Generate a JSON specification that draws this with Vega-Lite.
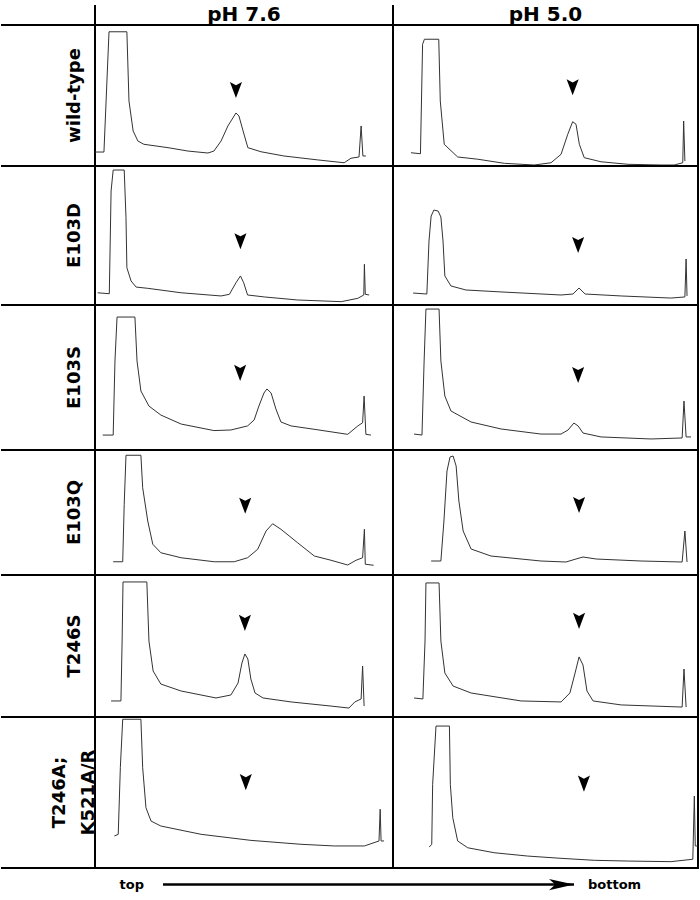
{
"$schema": "https://vega.github.io/schema/vega-lite/v6.json",
"padding": {"left": 0, "top": 4, "right": 3, "bottom": 0},
"background": "white",
"config": {"view": {"stroke": "black", "strokeWidth": 2}, "concat": {"spacing": 0}, "font": "DejaVu Sans"},
"datasets": {
"traces": [
{"mutant":"wild-type","pH":"pH 7.6","position":0,"signal":9.9},
{"mutant":"wild-type","pH":"pH 7.6","position":3.0,"signal":9.9},
{"mutant":"wild-type","pH":"pH 7.6","position":4.7,"signal":95.2},
{"mutant":"wild-type","pH":"pH 7.6","position":10.7,"signal":95.2},
{"mutant":"wild-type","pH":"pH 7.6","position":11.4,"signal":46.1},
{"mutant":"wild-type","pH":"pH 7.6","position":12.8,"signal":24.8},
{"mutant":"wild-type","pH":"pH 7.6","position":14.4,"signal":17.7},
{"mutant":"wild-type","pH":"pH 7.6","position":16.4,"signal":15.4},
{"mutant":"wild-type","pH":"pH 7.6","position":24.5,"signal":13.0},
{"mutant":"wild-type","pH":"pH 7.6","position":31.2,"signal":10.6},
{"mutant":"wild-type","pH":"pH 7.6","position":37.9,"signal":9.2},
{"mutant":"wild-type","pH":"pH 7.6","position":39.9,"signal":10.6},
{"mutant":"wild-type","pH":"pH 7.6","position":42.3,"signal":17.7},
{"mutant":"wild-type","pH":"pH 7.6","position":44.6,"signal":28.4},
{"mutant":"wild-type","pH":"pH 7.6","position":47.3,"signal":37.6},
{"mutant":"wild-type","pH":"pH 7.6","position":48.3,"signal":35.5},
{"mutant":"wild-type","pH":"pH 7.6","position":49.7,"signal":24.8},
{"mutant":"wild-type","pH":"pH 7.6","position":51.3,"signal":13.0},
{"mutant":"wild-type","pH":"pH 7.6","position":55.7,"signal":10.1},
{"mutant":"wild-type","pH":"pH 7.6","position":63.4,"signal":7.1},
{"mutant":"wild-type","pH":"pH 7.6","position":74.8,"signal":4.3},
{"mutant":"wild-type","pH":"pH 7.6","position":83.6,"signal":2.3},
{"mutant":"wild-type","pH":"pH 7.6","position":85.9,"signal":5.5},
{"mutant":"wild-type","pH":"pH 7.6","position":88.6,"signal":6.4},
{"mutant":"wild-type","pH":"pH 7.6","position":89.3,"signal":28.4},
{"mutant":"wild-type","pH":"pH 7.6","position":89.9,"signal":7.1},
{"mutant":"wild-type","pH":"pH 7.6","position":90.9,"signal":7.1},
{"mutant":"wild-type","pH":"pH 5.0","position":5.9,"signal":9.4},
{"mutant":"wild-type","pH":"pH 5.0","position":9.0,"signal":8.7},
{"mutant":"wild-type","pH":"pH 5.0","position":9.7,"signal":86.3},
{"mutant":"wild-type","pH":"pH 5.0","position":10.3,"signal":89.9},
{"mutant":"wild-type","pH":"pH 5.0","position":15.0,"signal":89.9},
{"mutant":"wild-type","pH":"pH 5.0","position":15.5,"signal":46.1},
{"mutant":"wild-type","pH":"pH 5.0","position":16.8,"signal":15.4},
{"mutant":"wild-type","pH":"pH 5.0","position":21.2,"signal":6.4},
{"mutant":"wild-type","pH":"pH 5.0","position":27.8,"signal":4.8},
{"mutant":"wild-type","pH":"pH 5.0","position":36.5,"signal":1.9},
{"mutant":"wild-type","pH":"pH 5.0","position":46.3,"signal":0.7},
{"mutant":"wild-type","pH":"pH 5.0","position":51.8,"signal":2.3},
{"mutant":"wild-type","pH":"pH 5.0","position":55.1,"signal":8.3},
{"mutant":"wild-type","pH":"pH 5.0","position":57.3,"signal":22.5},
{"mutant":"wild-type","pH":"pH 5.0","position":58.9,"signal":31.4},
{"mutant":"wild-type","pH":"pH 5.0","position":60.0,"signal":29.6},
{"mutant":"wild-type","pH":"pH 5.0","position":61.1,"signal":15.4},
{"mutant":"wild-type","pH":"pH 5.0","position":62.7,"signal":5.9},
{"mutant":"wild-type","pH":"pH 5.0","position":68.2,"signal":3.0},
{"mutant":"wild-type","pH":"pH 5.0","position":77.0,"signal":1.2},
{"mutant":"wild-type","pH":"pH 5.0","position":87.9,"signal":0.7},
{"mutant":"wild-type","pH":"pH 5.0","position":92.2,"signal":0.7},
{"mutant":"wild-type","pH":"pH 5.0","position":95.0,"signal":2.3},
{"mutant":"wild-type","pH":"pH 5.0","position":95.3,"signal":31.9},
{"mutant":"wild-type","pH":"pH 5.0","position":95.7,"signal":3.5},
{"mutant":"E103D","pH":"pH 7.6","position":0.9,"signal":8.8},
{"mutant":"E103D","pH":"pH 7.6","position":4.8,"signal":8.1},
{"mutant":"E103D","pH":"pH 7.6","position":5.4,"signal":82.0},
{"mutant":"E103D","pH":"pH 7.6","position":6.1,"signal":97.1},
{"mutant":"E103D","pH":"pH 7.6","position":9.8,"signal":97.1},
{"mutant":"E103D","pH":"pH 7.6","position":10.4,"signal":62.8},
{"mutant":"E103D","pH":"pH 7.6","position":10.7,"signal":26.8},
{"mutant":"E103D","pH":"pH 7.6","position":12.1,"signal":17.3},
{"mutant":"E103D","pH":"pH 7.6","position":13.8,"signal":12.9},
{"mutant":"E103D","pH":"pH 7.6","position":17.7,"signal":12.0},
{"mutant":"E103D","pH":"pH 7.6","position":28.9,"signal":8.8},
{"mutant":"E103D","pH":"pH 7.6","position":42.3,"signal":6.5},
{"mutant":"E103D","pH":"pH 7.6","position":45.1,"signal":7.7},
{"mutant":"E103D","pH":"pH 7.6","position":47.3,"signal":16.0},
{"mutant":"E103D","pH":"pH 7.6","position":48.8,"signal":20.9},
{"mutant":"E103D","pH":"pH 7.6","position":49.9,"signal":16.0},
{"mutant":"E103D","pH":"pH 7.6","position":51.2,"signal":7.2},
{"mutant":"E103D","pH":"pH 7.6","position":56.8,"signal":5.8},
{"mutant":"E103D","pH":"pH 7.6","position":68.0,"signal":3.6},
{"mutant":"E103D","pH":"pH 7.6","position":82.6,"signal":2.4},
{"mutant":"E103D","pH":"pH 7.6","position":88.2,"signal":4.8},
{"mutant":"E103D","pH":"pH 7.6","position":90.2,"signal":7.2},
{"mutant":"E103D","pH":"pH 7.6","position":90.4,"signal":29.3},
{"mutant":"E103D","pH":"pH 7.6","position":90.7,"signal":7.7},
{"mutant":"E103D","pH":"pH 7.6","position":92.0,"signal":7.2},
{"mutant":"E103D","pH":"pH 5.0","position":6.6,"signal":8.6},
{"mutant":"E103D","pH":"pH 5.0","position":11.1,"signal":7.9},
{"mutant":"E103D","pH":"pH 5.0","position":11.8,"signal":46.0},
{"mutant":"E103D","pH":"pH 5.0","position":12.5,"signal":64.0},
{"mutant":"E103D","pH":"pH 5.0","position":13.4,"signal":68.3},
{"mutant":"E103D","pH":"pH 5.0","position":14.8,"signal":67.6},
{"mutant":"E103D","pH":"pH 5.0","position":15.7,"signal":63.3},
{"mutant":"E103D","pH":"pH 5.0","position":16.4,"signal":46.0},
{"mutant":"E103D","pH":"pH 5.0","position":17.0,"signal":20.9},
{"mutant":"E103D","pH":"pH 5.0","position":19.0,"signal":13.7},
{"mutant":"E103D","pH":"pH 5.0","position":23.9,"signal":10.8},
{"mutant":"E103D","pH":"pH 5.0","position":35.4,"signal":9.4},
{"mutant":"E103D","pH":"pH 5.0","position":55.1,"signal":7.2},
{"mutant":"E103D","pH":"pH 5.0","position":59.0,"signal":7.9},
{"mutant":"E103D","pH":"pH 5.0","position":61.0,"signal":12.2},
{"mutant":"E103D","pH":"pH 5.0","position":63.0,"signal":7.9},
{"mutant":"E103D","pH":"pH 5.0","position":74.8,"signal":6.5},
{"mutant":"E103D","pH":"pH 5.0","position":91.1,"signal":5.0},
{"mutant":"E103D","pH":"pH 5.0","position":95.7,"signal":5.8},
{"mutant":"E103D","pH":"pH 5.0","position":96.1,"signal":33.1},
{"mutant":"E103D","pH":"pH 5.0","position":96.4,"signal":6.5},
{"mutant":"E103S","pH":"pH 7.6","position":2.6,"signal":10.3},
{"mutant":"E103S","pH":"pH 7.6","position":6.1,"signal":10.3},
{"mutant":"E103S","pH":"pH 7.6","position":6.7,"signal":61.4},
{"mutant":"E103S","pH":"pH 7.6","position":7.4,"signal":91.7},
{"mutant":"E103S","pH":"pH 7.6","position":13.4,"signal":91.7},
{"mutant":"E103S","pH":"pH 7.6","position":14.1,"signal":61.4},
{"mutant":"E103S","pH":"pH 7.6","position":15.4,"signal":40.7},
{"mutant":"E103S","pH":"pH 7.6","position":18.1,"signal":30.3},
{"mutant":"E103S","pH":"pH 7.6","position":22.1,"signal":24.1},
{"mutant":"E103S","pH":"pH 7.6","position":28.9,"signal":17.9},
{"mutant":"E103S","pH":"pH 7.6","position":39.9,"signal":13.4},
{"mutant":"E103S","pH":"pH 7.6","position":45.6,"signal":13.8},
{"mutant":"E103S","pH":"pH 7.6","position":51.2,"signal":16.6},
{"mutant":"E103S","pH":"pH 7.6","position":53.4,"signal":20.7},
{"mutant":"E103S","pH":"pH 7.6","position":55.0,"signal":30.3},
{"mutant":"E103S","pH":"pH 7.6","position":56.7,"signal":39.3},
{"mutant":"E103S","pH":"pH 7.6","position":57.7,"signal":42.1},
{"mutant":"E103S","pH":"pH 7.6","position":59.1,"signal":39.3},
{"mutant":"E103S","pH":"pH 7.6","position":60.7,"signal":28.3},
{"mutant":"E103S","pH":"pH 7.6","position":62.4,"signal":19.3},
{"mutant":"E103S","pH":"pH 7.6","position":65.8,"signal":16.6},
{"mutant":"E103S","pH":"pH 7.6","position":73.5,"signal":14.3},
{"mutant":"E103S","pH":"pH 7.6","position":84.8,"signal":10.8},
{"mutant":"E103S","pH":"pH 7.6","position":88.2,"signal":16.6},
{"mutant":"E103S","pH":"pH 7.6","position":89.8,"signal":18.8},
{"mutant":"E103S","pH":"pH 7.6","position":90.3,"signal":37.2},
{"mutant":"E103S","pH":"pH 7.6","position":90.9,"signal":10.8},
{"mutant":"E103S","pH":"pH 7.6","position":92.6,"signal":10.3},
{"mutant":"E103S","pH":"pH 5.0","position":6.9,"signal":11.0},
{"mutant":"E103S","pH":"pH 5.0","position":9.5,"signal":10.3},
{"mutant":"E103S","pH":"pH 5.0","position":10.2,"signal":61.4},
{"mutant":"E103S","pH":"pH 5.0","position":10.8,"signal":97.2},
{"mutant":"E103S","pH":"pH 5.0","position":15.1,"signal":97.2},
{"mutant":"E103S","pH":"pH 5.0","position":15.7,"signal":61.4},
{"mutant":"E103S","pH":"pH 5.0","position":17.0,"signal":37.2},
{"mutant":"E103S","pH":"pH 5.0","position":19.0,"signal":26.9},
{"mutant":"E103S","pH":"pH 5.0","position":25.6,"signal":19.3},
{"mutant":"E103S","pH":"pH 5.0","position":35.4,"signal":14.5},
{"mutant":"E103S","pH":"pH 5.0","position":48.5,"signal":11.0},
{"mutant":"E103S","pH":"pH 5.0","position":55.1,"signal":11.0},
{"mutant":"E103S","pH":"pH 5.0","position":57.4,"signal":13.8},
{"mutant":"E103S","pH":"pH 5.0","position":59.3,"signal":18.6},
{"mutant":"E103S","pH":"pH 5.0","position":60.7,"signal":16.6},
{"mutant":"E103S","pH":"pH 5.0","position":62.3,"signal":11.7},
{"mutant":"E103S","pH":"pH 5.0","position":68.2,"signal":9.0},
{"mutant":"E103S","pH":"pH 5.0","position":84.6,"signal":7.6},
{"mutant":"E103S","pH":"pH 5.0","position":94.8,"signal":8.3},
{"mutant":"E103S","pH":"pH 5.0","position":95.4,"signal":33.8},
{"mutant":"E103S","pH":"pH 5.0","position":96.1,"signal":9.0},
{"mutant":"E103S","pH":"pH 5.0","position":97.7,"signal":9.0},
{"mutant":"E103Q","pH":"pH 7.6","position":6.1,"signal":10.6},
{"mutant":"E103Q","pH":"pH 7.6","position":9.3,"signal":10.6},
{"mutant":"E103Q","pH":"pH 7.6","position":9.8,"signal":56.6},
{"mutant":"E103Q","pH":"pH 7.6","position":10.4,"signal":95.8},
{"mutant":"E103Q","pH":"pH 7.6","position":15.4,"signal":95.8},
{"mutant":"E103Q","pH":"pH 7.6","position":16.0,"signal":69.8},
{"mutant":"E103Q","pH":"pH 7.6","position":17.7,"signal":43.2},
{"mutant":"E103Q","pH":"pH 7.6","position":19.4,"signal":24.6},
{"mutant":"E103Q","pH":"pH 7.6","position":22.1,"signal":17.8},
{"mutant":"E103Q","pH":"pH 7.6","position":28.9,"signal":13.8},
{"mutant":"E103Q","pH":"pH 7.6","position":40.0,"signal":10.6},
{"mutant":"E103Q","pH":"pH 7.6","position":46.7,"signal":10.6},
{"mutant":"E103Q","pH":"pH 7.6","position":51.2,"signal":13.8},
{"mutant":"E103Q","pH":"pH 7.6","position":54.6,"signal":20.6},
{"mutant":"E103Q","pH":"pH 7.6","position":57.4,"signal":35.2},
{"mutant":"E103Q","pH":"pH 7.6","position":59.6,"signal":41.0},
{"mutant":"E103Q","pH":"pH 7.6","position":62.4,"signal":36.6},
{"mutant":"E103Q","pH":"pH 7.6","position":68.0,"signal":25.8},
{"mutant":"E103Q","pH":"pH 7.6","position":73.6,"signal":15.2},
{"mutant":"E103Q","pH":"pH 7.6","position":79.2,"signal":11.8},
{"mutant":"E103Q","pH":"pH 7.6","position":84.8,"signal":8.0},
{"mutant":"E103Q","pH":"pH 7.6","position":87.6,"signal":11.8},
{"mutant":"E103Q","pH":"pH 7.6","position":89.8,"signal":13.8},
{"mutant":"E103Q","pH":"pH 7.6","position":90.4,"signal":36.6},
{"mutant":"E103Q","pH":"pH 7.6","position":90.7,"signal":8.6},
{"mutant":"E103Q","pH":"pH 7.6","position":93.5,"signal":7.8},
{"mutant":"E103Q","pH":"pH 5.0","position":12.5,"signal":11.2},
{"mutant":"E103Q","pH":"pH 5.0","position":15.7,"signal":11.2},
{"mutant":"E103Q","pH":"pH 5.0","position":16.7,"signal":43.2},
{"mutant":"E103Q","pH":"pH 5.0","position":17.7,"signal":83.2},
{"mutant":"E103Q","pH":"pH 5.0","position":18.7,"signal":94.4},
{"mutant":"E103Q","pH":"pH 5.0","position":19.7,"signal":95.2},
{"mutant":"E103Q","pH":"pH 5.0","position":20.7,"signal":87.2},
{"mutant":"E103Q","pH":"pH 5.0","position":21.6,"signal":59.2},
{"mutant":"E103Q","pH":"pH 5.0","position":23.0,"signal":35.2},
{"mutant":"E103Q","pH":"pH 5.0","position":25.6,"signal":20.8},
{"mutant":"E103Q","pH":"pH 5.0","position":32.1,"signal":15.2},
{"mutant":"E103Q","pH":"pH 5.0","position":48.5,"signal":11.2},
{"mutant":"E103Q","pH":"pH 5.0","position":56.7,"signal":10.4},
{"mutant":"E103Q","pH":"pH 5.0","position":60.0,"signal":12.8},
{"mutant":"E103Q","pH":"pH 5.0","position":62.3,"signal":14.4},
{"mutant":"E103Q","pH":"pH 5.0","position":66.6,"signal":12.8},
{"mutant":"E103Q","pH":"pH 5.0","position":81.3,"signal":11.2},
{"mutant":"E103Q","pH":"pH 5.0","position":94.8,"signal":10.4},
{"mutant":"E103Q","pH":"pH 5.0","position":95.7,"signal":35.2},
{"mutant":"E103Q","pH":"pH 5.0","position":96.4,"signal":10.4},
{"mutant":"T246S","pH":"pH 7.6","position":5.4,"signal":11.3},
{"mutant":"T246S","pH":"pH 7.6","position":8.7,"signal":11.3},
{"mutant":"T246S","pH":"pH 7.6","position":9.1,"signal":53.5},
{"mutant":"T246S","pH":"pH 7.6","position":9.4,"signal":95.1},
{"mutant":"T246S","pH":"pH 7.6","position":17.4,"signal":95.1},
{"mutant":"T246S","pH":"pH 7.6","position":18.1,"signal":53.5},
{"mutant":"T246S","pH":"pH 7.6","position":19.5,"signal":32.4},
{"mutant":"T246S","pH":"pH 7.6","position":22.1,"signal":23.2},
{"mutant":"T246S","pH":"pH 7.6","position":28.9,"signal":18.3},
{"mutant":"T246S","pH":"pH 7.6","position":40.6,"signal":13.4},
{"mutant":"T246S","pH":"pH 7.6","position":45.6,"signal":15.5},
{"mutant":"T246S","pH":"pH 7.6","position":48.0,"signal":23.9},
{"mutant":"T246S","pH":"pH 7.6","position":49.3,"signal":38.0},
{"mutant":"T246S","pH":"pH 7.6","position":50.3,"signal":44.4},
{"mutant":"T246S","pH":"pH 7.6","position":51.3,"signal":40.8},
{"mutant":"T246S","pH":"pH 7.6","position":52.3,"signal":26.8},
{"mutant":"T246S","pH":"pH 7.6","position":53.7,"signal":16.9},
{"mutant":"T246S","pH":"pH 7.6","position":56.4,"signal":13.4},
{"mutant":"T246S","pH":"pH 7.6","position":65.8,"signal":10.6},
{"mutant":"T246S","pH":"pH 7.6","position":79.2,"signal":7.7},
{"mutant":"T246S","pH":"pH 7.6","position":85.2,"signal":6.3},
{"mutant":"T246S","pH":"pH 7.6","position":87.2,"signal":10.6},
{"mutant":"T246S","pH":"pH 7.6","position":89.3,"signal":12.7},
{"mutant":"T246S","pH":"pH 7.6","position":89.8,"signal":35.9},
{"mutant":"T246S","pH":"pH 7.6","position":90.3,"signal":7.7},
{"mutant":"T246S","pH":"pH 5.0","position":6.9,"signal":13.4},
{"mutant":"T246S","pH":"pH 5.0","position":9.8,"signal":12.7},
{"mutant":"T246S","pH":"pH 5.0","position":10.5,"signal":53.5},
{"mutant":"T246S","pH":"pH 5.0","position":10.8,"signal":94.4},
{"mutant":"T246S","pH":"pH 5.0","position":15.1,"signal":94.4},
{"mutant":"T246S","pH":"pH 5.0","position":15.7,"signal":53.5},
{"mutant":"T246S","pH":"pH 5.0","position":17.0,"signal":31.0},
{"mutant":"T246S","pH":"pH 5.0","position":19.7,"signal":21.8},
{"mutant":"T246S","pH":"pH 5.0","position":25.6,"signal":16.9},
{"mutant":"T246S","pH":"pH 5.0","position":42.0,"signal":11.3},
{"mutant":"T246S","pH":"pH 5.0","position":55.1,"signal":10.6},
{"mutant":"T246S","pH":"pH 5.0","position":58.0,"signal":16.9},
{"mutant":"T246S","pH":"pH 5.0","position":59.7,"signal":31.0},
{"mutant":"T246S","pH":"pH 5.0","position":61.0,"signal":42.3},
{"mutant":"T246S","pH":"pH 5.0","position":62.3,"signal":36.6},
{"mutant":"T246S","pH":"pH 5.0","position":63.6,"signal":18.3},
{"mutant":"T246S","pH":"pH 5.0","position":65.6,"signal":11.3},
{"mutant":"T246S","pH":"pH 5.0","position":74.8,"signal":8.5},
{"mutant":"T246S","pH":"pH 5.0","position":94.8,"signal":7.0},
{"mutant":"T246S","pH":"pH 5.0","position":95.4,"signal":33.8},
{"mutant":"T246S","pH":"pH 5.0","position":96.1,"signal":7.0},
{"mutant":"T246A;K521A/R","pH":"pH 7.6","position":6.5,"signal":21.2},
{"mutant":"T246A;K521A/R","pH":"pH 7.6","position":7.8,"signal":22.3},
{"mutant":"T246A;K521A/R","pH":"pH 7.6","position":8.5,"signal":66.4},
{"mutant":"T246A;K521A/R","pH":"pH 7.6","position":9.3,"signal":98.5},
{"mutant":"T246A;K521A/R","pH":"pH 7.6","position":15.4,"signal":98.5},
{"mutant":"T246A;K521A/R","pH":"pH 7.6","position":16.0,"signal":66.4},
{"mutant":"T246A;K521A/R","pH":"pH 7.6","position":17.1,"signal":39.9},
{"mutant":"T246A;K521A/R","pH":"pH 7.6","position":18.8,"signal":31.1},
{"mutant":"T246A;K521A/R","pH":"pH 7.6","position":22.1,"signal":27.8},
{"mutant":"T246A;K521A/R","pH":"pH 7.6","position":35.6,"signal":22.3},
{"mutant":"T246A;K521A/R","pH":"pH 7.6","position":52.3,"signal":18.3},
{"mutant":"T246A;K521A/R","pH":"pH 7.6","position":69.1,"signal":15.7},
{"mutant":"T246A;K521A/R","pH":"pH 7.6","position":80.3,"signal":14.6},
{"mutant":"T246A;K521A/R","pH":"pH 7.6","position":90.4,"signal":14.6},
{"mutant":"T246A;K521A/R","pH":"pH 7.6","position":95.3,"signal":17.9},
{"mutant":"T246A;K521A/R","pH":"pH 7.6","position":95.7,"signal":38.9},
{"mutant":"T246A;K521A/R","pH":"pH 7.6","position":96.0,"signal":17.9},
{"mutant":"T246A;K521A/R","pH":"pH 7.6","position":97.0,"signal":17.9},
{"mutant":"T246A;K521A/R","pH":"pH 5.0","position":11.9,"signal":13.9},
{"mutant":"T246A;K521A/R","pH":"pH 5.0","position":12.7,"signal":15.7},
{"mutant":"T246A;K521A/R","pH":"pH 5.0","position":13.0,"signal":55.4},
{"mutant":"T246A;K521A/R","pH":"pH 5.0","position":14.1,"signal":94.0},
{"mutant":"T246A;K521A/R","pH":"pH 5.0","position":18.5,"signal":94.0},
{"mutant":"T246A;K521A/R","pH":"pH 5.0","position":18.8,"signal":55.4},
{"mutant":"T246A;K521A/R","pH":"pH 5.0","position":19.6,"signal":33.3},
{"mutant":"T246A;K521A/R","pH":"pH 5.0","position":21.2,"signal":17.9},
{"mutant":"T246A;K521A/R","pH":"pH 5.0","position":24.5,"signal":13.4},
{"mutant":"T246A;K521A/R","pH":"pH 5.0","position":33.2,"signal":10.1},
{"mutant":"T246A;K521A/R","pH":"pH 5.0","position":44.2,"signal":7.9},
{"mutant":"T246A;K521A/R","pH":"pH 5.0","position":55.1,"signal":6.4},
{"mutant":"T246A;K521A/R","pH":"pH 5.0","position":66.0,"signal":5.1},
{"mutant":"T246A;K521A/R","pH":"pH 5.0","position":77.0,"signal":4.6},
{"mutant":"T246A;K521A/R","pH":"pH 5.0","position":91.1,"signal":4.2},
{"mutant":"T246A;K521A/R","pH":"pH 5.0","position":98.3,"signal":5.8},
{"mutant":"T246A;K521A/R","pH":"pH 5.0","position":98.8,"signal":47.7},
{"mutant":"T246A;K521A/R","pH":"pH 5.0","position":99.1,"signal":14.6},
{"mutant":"T246A;K521A/R","pH":"pH 5.0","position":99.9,"signal":14.6}
],
"markers": [
{"mutant":"wild-type","pH":"pH 7.6","position":47.3,"signal":48.2},
{"mutant":"wild-type","pH":"pH 5.0","position":58.9,"signal":50.1},
{"mutant":"E103D","pH":"pH 7.6","position":48.8,"signal":40.1},
{"mutant":"E103D","pH":"pH 5.0","position":60.7,"signal":37.4},
{"mutant":"E103S","pH":"pH 7.6","position":48.7,"signal":47.6},
{"mutant":"E103S","pH":"pH 5.0","position":60.7,"signal":46.2},
{"mutant":"E103Q","pH":"pH 7.6","position":50.4,"signal":49.0},
{"mutant":"E103Q","pH":"pH 5.0","position":61.0,"signal":49.6},
{"mutant":"T246S","pH":"pH 7.6","position":50.3,"signal":60.6},
{"mutant":"T246S","pH":"pH 5.0","position":61.0,"signal":62.0},
{"mutant":"T246A;K521A/R","pH":"pH 7.6","position":50.6,"signal":51.5},
{"mutant":"T246A;K521A/R","pH":"pH 5.0","position":62.6,"signal":50.5}
],
"edges": [{"edge":0},{"edge":1}],
"leftEdge": [{"edge":0}],
"gradient": [{"end":"top","position":0},{"end":"bottom","position":1}],
"arrow": [{"from":0,"to":1}]
},
"bounds": "flush",
"spacing": 0,
"columns": 3,
"concat": [
 {"width":94,"height":20,"view":{"stroke":null},"data":{"values":[{"t":""}]},"mark":"text","encoding":{"text":{"field":"t"}}},
 {"width":298,"height":20,"view":{"stroke":null},"layer":[
  {"data":{"name":"leftEdge"},"mark":{"type":"rule","color":"black","strokeWidth":2},"encoding":{"x":{"field":"edge","type":"quantitative","scale":{"domain":[0,1]},"axis":null}}},
  {"data":{"values":[{"pH":"pH 7.6"}]},"mark":{"type":"text","fontSize":20,"fontWeight":"bold","baseline":"middle","color":"black"},"encoding":{"text":{"field":"pH"}}}]},
 {"width":305,"height":20,"view":{"stroke":null},"layer":[
  {"data":{"name":"leftEdge"},"mark":{"type":"rule","color":"black","strokeWidth":2},"encoding":{"x":{"field":"edge","type":"quantitative","scale":{"domain":[0,1]},"axis":null}}},
  {"data":{"values":[{"pH":"pH 5.0"}]},"mark":{"type":"text","fontSize":20,"fontWeight":"bold","baseline":"middle","color":"black"},"encoding":{"text":{"field":"pH"}}}]},

 {"width":94,"height":141,"view":{"stroke":null},"layer":[
  {"data":{"name":"edges"},"mark":{"type":"rule","color":"black","strokeWidth":2},"encoding":{"y":{"field":"edge","type":"quantitative","scale":{"domain":[0,1]},"axis":null}}},
  {"data":{"values":[{"label":"wild-type"}]},"mark":{"type":"text","angle":270,"fontSize":18,"fontWeight":"bold","baseline":"middle","dy":27,"color":"black"},"encoding":{"text":{"field":"label"}}}]},
 {"width":298,"height":141,"layer":[
  {"data":{"name":"traces"},"transform":[{"filter":"datum.mutant == 'wild-type' && datum.pH == 'pH 7.6'"}],"mark":{"type":"line","color":"#333","strokeWidth":1},"encoding":{"x":{"field":"position","type":"quantitative","scale":{"domain":[0,100]},"axis":null},"y":{"field":"signal","type":"quantitative","scale":{"domain":[0,100]},"axis":null}}},
  {"data":{"name":"markers"},"transform":[{"filter":"datum.mutant == 'wild-type' && datum.pH == 'pH 7.6'"}],"mark":{"type":"point","shape":"M0,0L-0.75,-2L0,-1.6L0.75,-2Z","filled":true,"color":"black","opacity":1,"size":260},"encoding":{"x":{"field":"position","type":"quantitative"},"y":{"field":"signal","type":"quantitative"}}}]},
 {"width":305,"height":141,"layer":[
  {"data":{"name":"traces"},"transform":[{"filter":"datum.mutant == 'wild-type' && datum.pH == 'pH 5.0'"}],"mark":{"type":"line","color":"#333","strokeWidth":1},"encoding":{"x":{"field":"position","type":"quantitative","scale":{"domain":[0,100]},"axis":null},"y":{"field":"signal","type":"quantitative","scale":{"domain":[0,100]},"axis":null}}},
  {"data":{"name":"markers"},"transform":[{"filter":"datum.mutant == 'wild-type' && datum.pH == 'pH 5.0'"}],"mark":{"type":"point","shape":"M0,0L-0.75,-2L0,-1.6L0.75,-2Z","filled":true,"color":"black","opacity":1,"size":260},"encoding":{"x":{"field":"position","type":"quantitative"},"y":{"field":"signal","type":"quantitative"}}}]},

 {"width":94,"height":139,"view":{"stroke":null},"layer":[
  {"data":{"name":"edges"},"mark":{"type":"rule","color":"black","strokeWidth":2},"encoding":{"y":{"field":"edge","type":"quantitative","scale":{"domain":[0,1]},"axis":null}}},
  {"data":{"values":[{"label":"E103D"}]},"mark":{"type":"text","angle":270,"fontSize":18,"fontWeight":"bold","baseline":"middle","dy":27,"color":"black"},"encoding":{"text":{"field":"label"}}}]},
 {"width":298,"height":139,"layer":[
  {"data":{"name":"traces"},"transform":[{"filter":"datum.mutant == 'E103D' && datum.pH == 'pH 7.6'"}],"mark":{"type":"line","color":"#333","strokeWidth":1},"encoding":{"x":{"field":"position","type":"quantitative","scale":{"domain":[0,100]},"axis":null},"y":{"field":"signal","type":"quantitative","scale":{"domain":[0,100]},"axis":null}}},
  {"data":{"name":"markers"},"transform":[{"filter":"datum.mutant == 'E103D' && datum.pH == 'pH 7.6'"}],"mark":{"type":"point","shape":"M0,0L-0.75,-2L0,-1.6L0.75,-2Z","filled":true,"color":"black","opacity":1,"size":260},"encoding":{"x":{"field":"position","type":"quantitative"},"y":{"field":"signal","type":"quantitative"}}}]},
 {"width":305,"height":139,"layer":[
  {"data":{"name":"traces"},"transform":[{"filter":"datum.mutant == 'E103D' && datum.pH == 'pH 5.0'"}],"mark":{"type":"line","color":"#333","strokeWidth":1},"encoding":{"x":{"field":"position","type":"quantitative","scale":{"domain":[0,100]},"axis":null},"y":{"field":"signal","type":"quantitative","scale":{"domain":[0,100]},"axis":null}}},
  {"data":{"name":"markers"},"transform":[{"filter":"datum.mutant == 'E103D' && datum.pH == 'pH 5.0'"}],"mark":{"type":"point","shape":"M0,0L-0.75,-2L0,-1.6L0.75,-2Z","filled":true,"color":"black","opacity":1,"size":260},"encoding":{"x":{"field":"position","type":"quantitative"},"y":{"field":"signal","type":"quantitative"}}}]},

 {"width":94,"height":145,"view":{"stroke":null},"layer":[
  {"data":{"name":"edges"},"mark":{"type":"rule","color":"black","strokeWidth":2},"encoding":{"y":{"field":"edge","type":"quantitative","scale":{"domain":[0,1]},"axis":null}}},
  {"data":{"values":[{"label":"E103S"}]},"mark":{"type":"text","angle":270,"fontSize":18,"fontWeight":"bold","baseline":"middle","dy":27,"color":"black"},"encoding":{"text":{"field":"label"}}}]},
 {"width":298,"height":145,"layer":[
  {"data":{"name":"traces"},"transform":[{"filter":"datum.mutant == 'E103S' && datum.pH == 'pH 7.6'"}],"mark":{"type":"line","color":"#333","strokeWidth":1},"encoding":{"x":{"field":"position","type":"quantitative","scale":{"domain":[0,100]},"axis":null},"y":{"field":"signal","type":"quantitative","scale":{"domain":[0,100]},"axis":null}}},
  {"data":{"name":"markers"},"transform":[{"filter":"datum.mutant == 'E103S' && datum.pH == 'pH 7.6'"}],"mark":{"type":"point","shape":"M0,0L-0.75,-2L0,-1.6L0.75,-2Z","filled":true,"color":"black","opacity":1,"size":260},"encoding":{"x":{"field":"position","type":"quantitative"},"y":{"field":"signal","type":"quantitative"}}}]},
 {"width":305,"height":145,"layer":[
  {"data":{"name":"traces"},"transform":[{"filter":"datum.mutant == 'E103S' && datum.pH == 'pH 5.0'"}],"mark":{"type":"line","color":"#333","strokeWidth":1},"encoding":{"x":{"field":"position","type":"quantitative","scale":{"domain":[0,100]},"axis":null},"y":{"field":"signal","type":"quantitative","scale":{"domain":[0,100]},"axis":null}}},
  {"data":{"name":"markers"},"transform":[{"filter":"datum.mutant == 'E103S' && datum.pH == 'pH 5.0'"}],"mark":{"type":"point","shape":"M0,0L-0.75,-2L0,-1.6L0.75,-2Z","filled":true,"color":"black","opacity":1,"size":260},"encoding":{"x":{"field":"position","type":"quantitative"},"y":{"field":"signal","type":"quantitative"}}}]},

 {"width":94,"height":125,"view":{"stroke":null},"layer":[
  {"data":{"name":"edges"},"mark":{"type":"rule","color":"black","strokeWidth":2},"encoding":{"y":{"field":"edge","type":"quantitative","scale":{"domain":[0,1]},"axis":null}}},
  {"data":{"values":[{"label":"E103Q"}]},"mark":{"type":"text","angle":270,"fontSize":18,"fontWeight":"bold","baseline":"middle","dy":27,"color":"black"},"encoding":{"text":{"field":"label"}}}]},
 {"width":298,"height":125,"layer":[
  {"data":{"name":"traces"},"transform":[{"filter":"datum.mutant == 'E103Q' && datum.pH == 'pH 7.6'"}],"mark":{"type":"line","color":"#333","strokeWidth":1},"encoding":{"x":{"field":"position","type":"quantitative","scale":{"domain":[0,100]},"axis":null},"y":{"field":"signal","type":"quantitative","scale":{"domain":[0,100]},"axis":null}}},
  {"data":{"name":"markers"},"transform":[{"filter":"datum.mutant == 'E103Q' && datum.pH == 'pH 7.6'"}],"mark":{"type":"point","shape":"M0,0L-0.75,-2L0,-1.6L0.75,-2Z","filled":true,"color":"black","opacity":1,"size":260},"encoding":{"x":{"field":"position","type":"quantitative"},"y":{"field":"signal","type":"quantitative"}}}]},
 {"width":305,"height":125,"layer":[
  {"data":{"name":"traces"},"transform":[{"filter":"datum.mutant == 'E103Q' && datum.pH == 'pH 5.0'"}],"mark":{"type":"line","color":"#333","strokeWidth":1},"encoding":{"x":{"field":"position","type":"quantitative","scale":{"domain":[0,100]},"axis":null},"y":{"field":"signal","type":"quantitative","scale":{"domain":[0,100]},"axis":null}}},
  {"data":{"name":"markers"},"transform":[{"filter":"datum.mutant == 'E103Q' && datum.pH == 'pH 5.0'"}],"mark":{"type":"point","shape":"M0,0L-0.75,-2L0,-1.6L0.75,-2Z","filled":true,"color":"black","opacity":1,"size":260},"encoding":{"x":{"field":"position","type":"quantitative"},"y":{"field":"signal","type":"quantitative"}}}]},

 {"width":94,"height":142,"view":{"stroke":null},"layer":[
  {"data":{"name":"edges"},"mark":{"type":"rule","color":"black","strokeWidth":2},"encoding":{"y":{"field":"edge","type":"quantitative","scale":{"domain":[0,1]},"axis":null}}},
  {"data":{"values":[{"label":"T246S"}]},"mark":{"type":"text","angle":270,"fontSize":18,"fontWeight":"bold","baseline":"middle","dy":27,"color":"black"},"encoding":{"text":{"field":"label"}}}]},
 {"width":298,"height":142,"layer":[
  {"data":{"name":"traces"},"transform":[{"filter":"datum.mutant == 'T246S' && datum.pH == 'pH 7.6'"}],"mark":{"type":"line","color":"#333","strokeWidth":1},"encoding":{"x":{"field":"position","type":"quantitative","scale":{"domain":[0,100]},"axis":null},"y":{"field":"signal","type":"quantitative","scale":{"domain":[0,100]},"axis":null}}},
  {"data":{"name":"markers"},"transform":[{"filter":"datum.mutant == 'T246S' && datum.pH == 'pH 7.6'"}],"mark":{"type":"point","shape":"M0,0L-0.75,-2L0,-1.6L0.75,-2Z","filled":true,"color":"black","opacity":1,"size":260},"encoding":{"x":{"field":"position","type":"quantitative"},"y":{"field":"signal","type":"quantitative"}}}]},
 {"width":305,"height":142,"layer":[
  {"data":{"name":"traces"},"transform":[{"filter":"datum.mutant == 'T246S' && datum.pH == 'pH 5.0'"}],"mark":{"type":"line","color":"#333","strokeWidth":1},"encoding":{"x":{"field":"position","type":"quantitative","scale":{"domain":[0,100]},"axis":null},"y":{"field":"signal","type":"quantitative","scale":{"domain":[0,100]},"axis":null}}},
  {"data":{"name":"markers"},"transform":[{"filter":"datum.mutant == 'T246S' && datum.pH == 'pH 5.0'"}],"mark":{"type":"point","shape":"M0,0L-0.75,-2L0,-1.6L0.75,-2Z","filled":true,"color":"black","opacity":1,"size":260},"encoding":{"x":{"field":"position","type":"quantitative"},"y":{"field":"signal","type":"quantitative"}}}]},

 {"width":94,"height":151,"view":{"stroke":null},"layer":[
  {"data":{"name":"edges"},"mark":{"type":"rule","color":"black","strokeWidth":2},"encoding":{"y":{"field":"edge","type":"quantitative","scale":{"domain":[0,1]},"axis":null}}},
  {"data":{"values":[{"label":"T246A;\nK521A/R"}]},"mark":{"type":"text","angle":270,"fontSize":18,"fontWeight":"bold","baseline":"middle","dy":11.5,"lineBreak":"\n","lineHeight":29,"color":"black"},"encoding":{"text":{"field":"label"}}}]},
 {"width":298,"height":151,"layer":[
  {"data":{"name":"traces"},"transform":[{"filter":"datum.mutant == 'T246A;K521A/R' && datum.pH == 'pH 7.6'"}],"mark":{"type":"line","color":"#333","strokeWidth":1},"encoding":{"x":{"field":"position","type":"quantitative","scale":{"domain":[0,100]},"axis":null},"y":{"field":"signal","type":"quantitative","scale":{"domain":[0,100]},"axis":null}}},
  {"data":{"name":"markers"},"transform":[{"filter":"datum.mutant == 'T246A;K521A/R' && datum.pH == 'pH 7.6'"}],"mark":{"type":"point","shape":"M0,0L-0.75,-2L0,-1.6L0.75,-2Z","filled":true,"color":"black","opacity":1,"size":260},"encoding":{"x":{"field":"position","type":"quantitative"},"y":{"field":"signal","type":"quantitative"}}}]},
 {"width":305,"height":151,"layer":[
  {"data":{"name":"traces"},"transform":[{"filter":"datum.mutant == 'T246A;K521A/R' && datum.pH == 'pH 5.0'"}],"mark":{"type":"line","color":"#333","strokeWidth":1},"encoding":{"x":{"field":"position","type":"quantitative","scale":{"domain":[0,100]},"axis":null},"y":{"field":"signal","type":"quantitative","scale":{"domain":[0,100]},"axis":null}}},
  {"data":{"name":"markers"},"transform":[{"filter":"datum.mutant == 'T246A;K521A/R' && datum.pH == 'pH 5.0'"}],"mark":{"type":"point","shape":"M0,0L-0.75,-2L0,-1.6L0.75,-2Z","filled":true,"color":"black","opacity":1,"size":260},"encoding":{"x":{"field":"position","type":"quantitative"},"y":{"field":"signal","type":"quantitative"}}}]},

 {"width":94,"height":33,"view":{"stroke":null},"data":{"values":[{"t":""}]},"mark":"text","encoding":{"text":{"field":"t"}}},
 {"width":298,"height":33,"view":{"stroke":null},"layer":[
  {"data":{"name":"arrow"},"mark":{"type":"rule","color":"black","strokeWidth":2.5},"encoding":{"x":{"field":"from","type":"quantitative","scale":{"domain":[-0.16545,0.55961],"nice":false,"zero":false},"axis":null},"x2":{"field":"to"}}},
  {"data":{"name":"gradient"},"transform":[{"filter":"datum.end == 'bottom'"}],"mark":{"type":"point","shape":"M0,0L-2,-0.45L-1.5,0L-2,0.45Z","filled":true,"color":"black","opacity":1,"size":625},"encoding":{"x":{"field":"position","type":"quantitative"}}},
  {"data":{"name":"gradient"},"transform":[{"filter":"datum.end == 'top'"}],"mark":{"type":"text","fontSize":13,"fontWeight":"bold","align":"right","baseline":"middle","dx":-19,"color":"black"},"encoding":{"x":{"field":"position","type":"quantitative"},"text":{"field":"end"}}},
  {"data":{"name":"gradient"},"transform":[{"filter":"datum.end == 'bottom'"}],"mark":{"type":"text","fontSize":13,"fontWeight":"bold","align":"left","baseline":"middle","dx":14,"color":"black"},"encoding":{"x":{"field":"position","type":"quantitative"},"text":{"field":"end"}}}
 ]}
]
}
